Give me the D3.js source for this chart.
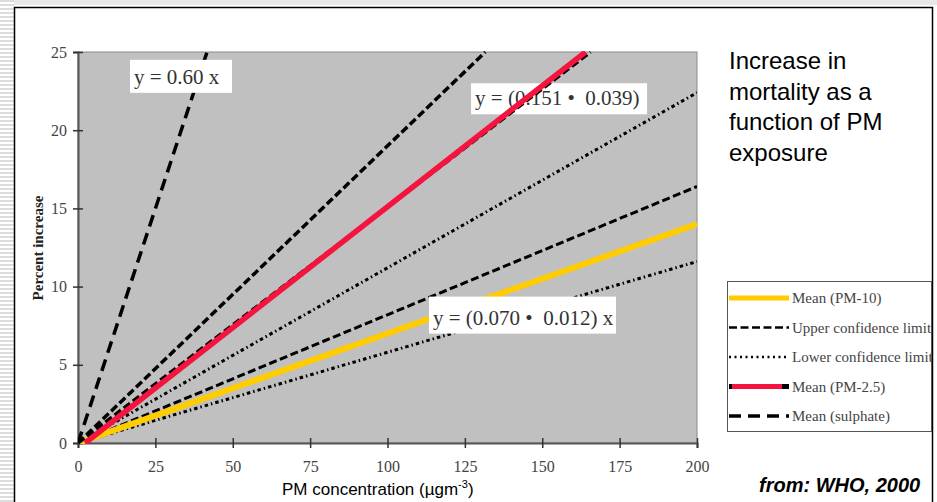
<!DOCTYPE html>
<html>
<head>
<meta charset="utf-8">
<script src="https://cdn.jsdelivr.net/npm/d3@7"></script>
<style>
  body { margin: 0; background: #fff; }
  svg { display: block; }
</style>
</head>
<body>
<div id="chart"></div>
<script>
// ticks
var xTicks = [0, 25, 50, 75, 100, 125, 150, 175, 200];
var yTicks = [0, 5, 10, 15, 20, 25];

// lines, [PM, percent increase] end points
var pm10Mean = [[0, 0], [200, 14.0]];
var pm10Upper = [[0, 0], [200, 16.4]];
var pm10Lower = [[0, 0], [200, 11.6]];
var pm25Mean = [[2.3, 0], [164, 25]];
var pm25MeanUnder = [[0, 0], [165.6, 25]];
var pm25Upper = [[0, 0], [131.6, 25]];
var pm25Lower = [[0, 0], [200, 22.4]];
var sulphateMean = [[0, 0], [41.7, 25]];

var titleLines = ['Increase in', 'mortality as a', 'function of PM', 'exposure'];
var legendNames = ['Mean (PM-10)', 'Upper confidence limit', 'Lower confidence limit', 'Mean (PM-2.5)', 'Mean (sulphate)'];

const W = 937, H = 502;
const PLOT = { LEFT: 78, TOP: 52, RIGHT: 697, BOTTOM: 443 };
const SERIF = 'Liberation Serif, Times New Roman, serif';
const SANS = 'Liberation Sans, Arial, sans-serif';

var svg = d3.select('#chart').append('svg').attr('width', W).attr('height', H);

// striped margin outside the frame
var defs = svg.append('defs');
var pat = defs.append('pattern').attr('id', 'stripes').attr('width', 4).attr('height', 4)
	.attr('patternUnits', 'userSpaceOnUse');
pat.append('rect').attr('width', 4).attr('height', 4).attr('fill', '#fff');
pat.append('rect').attr('width', 4).attr('height', 2).attr('fill', '#dcdcdc');
svg.append('rect').attr('x', 0).attr('y', 0).attr('width', 14).attr('height', H).attr('fill', 'url(#stripes)');
svg.append('rect').attr('x', 14).attr('y', 0).attr('width', W - 14).attr('height', 5).attr('fill', '#e8e8e8');

// frame
svg.append('path').attr('d', 'M14.5,' + H + 'V7.5H932.5V' + H)
	.attr('fill', 'none').attr('stroke', '#000').attr('stroke-width', 1.5);

var x = d3.scaleLinear().domain([0, 200]).range([PLOT.LEFT, PLOT.RIGHT]);
var y = d3.scaleLinear().domain([0, 25]).range([PLOT.BOTTOM, PLOT.TOP]);

// plot area
svg.append('rect').attr('x', PLOT.LEFT).attr('y', PLOT.TOP)
	.attr('width', PLOT.RIGHT - PLOT.LEFT).attr('height', PLOT.BOTTOM - PLOT.TOP)
	.attr('fill', '#c0c0c0').attr('stroke', '#8a8a8a').attr('stroke-width', 1);

defs.append('clipPath').attr('id', 'clip').append('rect')
	.attr('x', PLOT.LEFT).attr('y', PLOT.TOP - 1)
	.attr('width', PLOT.RIGHT - PLOT.LEFT).attr('height', PLOT.BOTTOM - PLOT.TOP + 2);

// axes
var xAxis = d3.axisBottom(x).tickValues(xTicks).tickSize(5).tickPadding(13);
var yAxis = d3.axisLeft(y).tickValues(yTicks).tickSize(5).tickPadding(6);

var gx = svg.append('g').attr('transform', 'translate(0,' + PLOT.BOTTOM + ')').call(xAxis);
var gy = svg.append('g').attr('transform', 'translate(' + PLOT.LEFT + ',0)').call(yAxis);
[gx, gy].forEach(function (g) {
	g.select('.domain').attr('stroke', '#555').attr('stroke-width', 2);
	g.selectAll('.tick line').attr('stroke', '#333').attr('stroke-width', 1.5);
	g.selectAll('text').attr('font-family', SERIF).attr('font-size', 16).attr('fill', '#444');
});
gx.selectAll('.tick line').attr('y1', -5);
gy.selectAll('.tick line').attr('x1', -5).attr('x2', 5);

// axis titles
svg.append('text').attr('transform', 'translate(43,248) rotate(-90)')
	.attr('text-anchor', 'middle').attr('font-family', SERIF).attr('font-weight', 'bold')
	.attr('font-size', 15).attr('fill', '#222').text('Percent increase');

var xt = svg.append('text').attr('x', 282).attr('y', 495)
	.attr('font-family', SANS).attr('font-size', 17).attr('fill', '#000');
xt.append('tspan').text('PM concentration (\u00b5gm');
xt.append('tspan').attr('font-size', 11).attr('dy', -7).text('-3');
xt.append('tspan').attr('dy', 7).text(')');

var line = d3.line().x(function (d) { return x(d[0]); }).y(function (d) { return y(d[1]); });

function label (txt, x0, y0, bw, bh) {
	var g = svg.append('g');
	g.append('rect').attr('x', x(x0)).attr('y', y(y0)).attr('width', bw).attr('height', bh).attr('fill', '#fff');
	g.append('text').attr('x', x(x0) + 4).attr('y', y(y0) + bh - 9)
		.attr('font-family', SERIF).attr('font-size', 21).attr('fill', '#333')
		.attr('xml:space', 'preserve').text(txt);
}

// PM-2.5 label sits under its lines
label('y = (0.151 \u2022  0.039)', 127.0, 23.0, 176, 31);

var lines = svg.append('g').attr('clip-path', 'url(#clip)');
function drawLine (data, color, width, dash) {
	lines.append('path').datum(data).attr('d', line)
		.attr('fill', 'none').attr('stroke', color).attr('stroke-width', width)
		.attr('stroke-dasharray', dash || null);
}

var DASH = '8,3.5', DOT = '3.5,3,1.5,3', LONG = '12,7';
drawLine(pm10Lower, '#000', 3, DOT);
drawLine(pm25Lower, '#000', 3, DOT);
drawLine(pm10Upper, '#000', 3, DASH);
drawLine(pm25Upper, '#000', 3.5, DASH);
drawLine(pm10Mean, '#ffcc00', 6);
drawLine(pm25MeanUnder, '#000', 3.5, DASH);
drawLine(pm25Mean, '#f5133f', 5.5);
drawLine(sulphateMean, '#000', 3.5, LONG);

label('y = 0.60 x', 16.8, 24.5, 102, 33);
label('y = (0.070 \u2022  0.012) x', 113.4, 9.36, 187, 37);

// title
svg.append('g').selectAll('text').data(titleLines).enter().append('text')
	.attr('x', 729).attr('y', function (d, i) { return 69 + i * 30.5; })
	.attr('font-family', SANS).attr('font-size', 24).attr('fill', '#000')
	.text(function (d) { return d; });

// legend
var lg = svg.append('g');
lg.append('rect').attr('x', 727.5).attr('y', 281.5).attr('width', 204).attr('height', 150)
	.attr('fill', '#fff').attr('stroke', '#555').attr('stroke-width', 1);
defs.append('clipPath').attr('id', 'lclip').append('rect')
	.attr('x', 728).attr('y', 282).attr('width', 203).attr('height', 149);
var lgi = lg.append('g').attr('clip-path', 'url(#lclip)');
var legendStyles = [
	{ color: '#ffcc00', width: 5, dash: null },
	{ color: '#000', width: 2.5, dash: '8,3.5' },
	{ color: '#000', width: 2.5, dash: '2,3.5' },
	{ color: '#000', width: 5, dash: null },
	{ color: '#000', width: 3.5, dash: '12,7' }
];
legendNames.forEach(function (name, i) {
	var ly = 298 + i * 29.5;
	var s = legendStyles[i];
	lgi.append('line').attr('x1', 729).attr('x2', 789).attr('y1', ly).attr('y2', ly)
		.attr('stroke', s.color).attr('stroke-width', s.width).attr('stroke-dasharray', s.dash);
	if (i === 3) {
		lgi.append('line').attr('x1', 732).attr('x2', 782).attr('y1', ly).attr('y2', ly)
			.attr('stroke', '#f5133f').attr('stroke-width', 5);
	}
	lgi.append('text').attr('x', 792).attr('y', ly + 5)
		.attr('font-family', SERIF).attr('font-size', 15).attr('fill', '#444').text(name);
});

svg.append('text').attr('x', 759).attr('y', 492)
	.attr('font-family', SANS).attr('font-size', 20).attr('font-weight', 'bold').attr('font-style', 'italic')
	.attr('fill', '#000').text('from: WHO, 2000');
</script>
</body>
</html>
